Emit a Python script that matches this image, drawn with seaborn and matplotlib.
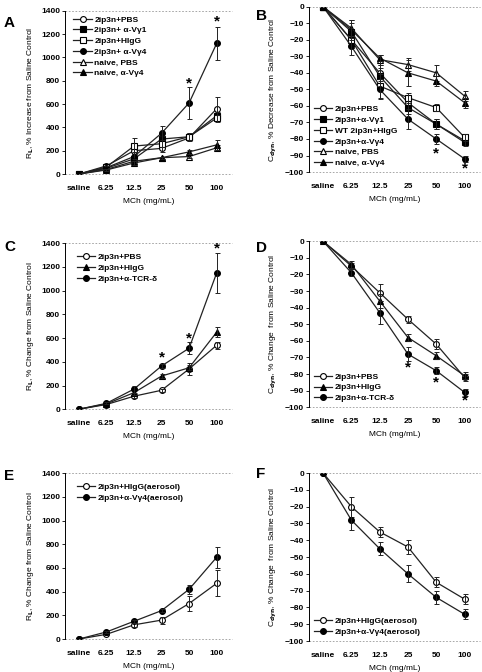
import numpy as np
import matplotlib
matplotlib.use('Agg')
import matplotlib.pyplot as plt
import seaborn as sns

doses = ['saline', '6.25', '12.5', '25', '50', '100']

# panel A: RL, % increase
a_pbs = [0, 70, 200, 220, 310, 560]
a_vg1 = [0, 50, 130, 300, 320, 500]
a_higg = [0, 60, 240, 260, 320, 480]
a_vg4 = [0, 55, 150, 350, 610, 1120]
a_nv_pbs = [0, 40, 110, 140, 150, 225]
a_nv_vg4 = [0, 35, 95, 140, 190, 250]
a_err_pbs = [0, 10, 30, 30, 30, 100]
a_err_vg1 = [0, 10, 30, 30, 30, 30]
a_err_higg = [0, 10, 70, 30, 30, 30]
a_err_vg4 = [0, 10, 40, 60, 140, 140]
a_err_nv_pbs = [0, 5, 20, 10, 15, 20]
a_err_nv_vg4 = [0, 5, 20, 10, 20, 40]

# panel B: Cdyn, % decrease
b_pbs = [0, -20, -40, -58, -71, -81]
b_vg1 = [0, -15, -42, -61, -71, -82]
b_higg = [0, -20, -48, -55, -61, -79]
b_vg4 = [0, -24, -50, -68, -80, -92]
b_nv_pbs = [0, -13, -32, -35, -40, -54]
b_nv_vg4 = [0, -14, -31, -40, -45, -58]
b_err_pbs = [0, 5, 5, 4, 3, 2]
b_err_vg1 = [0, 5, 5, 4, 3, 2]
b_err_higg = [0, 5, 7, 3, 2, 2]
b_err_vg4 = [0, 5, 6, 6, 3, 2]
b_err_nv_pbs = [0, 5, 3, 4, 5, 3]
b_err_nv_vg4 = [0, 6, 2, 8, 3, 3]

# panel C
c_pbs = [0, 40, 110, 160, 340, 540]
c_higg = [0, 45, 140, 280, 350, 650]
c_tcr = [0, 50, 170, 365, 515, 1150]
c_err_pbs = [0, 5, 15, 15, 50, 30]
c_err_higg = [0, 5, 20, 20, 20, 40]
c_err_tcr = [0, 8, 30, 15, 50, 170]

# panel D
d_pbs = [0, -15, -31, -47, -62, -82]
d_higg = [0, -14, -36, -58, -69, -81]
d_tcr = [0, -19, -43, -68, -78, -91]
d_err_pbs = [0, 2, 5, 2, 3, 2]
d_err_higg = [0, 2, 4, 2, 2, 2]
d_err_tcr = [0, 2, 7, 4, 2, 2]

# panel E
e_higg = [0, 40, 120, 160, 300, 470]
e_vg4 = [0, 60, 150, 240, 420, 690]
e_err_higg = [0, 8, 15, 30, 60, 110]
e_err_vg4 = [0, 8, 15, 15, 40, 90]

# panel F
f_higg = [0, -20, -35, -44, -65, -75]
f_vg4 = [0, -28, -45, -60, -74, -84]
f_err_higg = [0, 6, 3, 4, 3, 3]
f_err_vg4 = [0, 6, 4, 5, 4, 3]

stars_a = [(4, 780), (5, 1310)]
stars_b = [(4, -89), (5, -98)]
stars_c = [(3, 440), (4, 595), (5, 1360)]
stars_d = [(3, -76), (4, -85), (5, -96)]

plt.rcParams['font.family'] = ['Liberation Sans', 'DejaVu Sans']
plt.rcParams['font.weight'] = 'bold'
plt.rcParams['mathtext.default'] = 'bf'

fig = plt.figure(figsize=(4.82, 6.72), dpi=100)
x = np.arange(len(doses))


def panel(rect, series, ylim, yticks, ylabel, letter, letter_xy, stars, legloc, legbox):
    ax = fig.add_axes(rect)
    for label, vals, err, mk, filled in series:
        sns.lineplot(x=x, y=vals, ax=ax, color='#222222', lw=0.9, marker=mk,
                     markersize=4.2 if mk != '^' else 4.8,
                     markerfacecolor='black' if filled else 'white',
                     markeredgecolor='black', markeredgewidth=0.8, label=label)
        ax.errorbar(x[1:], vals[1:], yerr=err[1:], fmt='none', ecolor='#222222',
                    elinewidth=0.7, capsize=1.8, capthick=0.7)
    for sx, sy in stars:
        ax.text(sx, sy, '*', ha='center', va='center', fontsize=11)
    ax.set_ylim(*ylim)
    ax.set_xlim(-0.5, 5.55)
    ax.set_yticks(yticks)
    ax.set_xticks(x)
    ax.set_xticklabels(doses)
    ax.axhline(ylim[0], color='#999999', ls=(0, (2, 2)), lw=0.6, clip_on=False)
    ax.axhline(ylim[1], color='#999999', ls=(0, (2, 2)), lw=0.6, clip_on=False)
    for s in ['top', 'right', 'bottom']:
        ax.spines[s].set_visible(False)
    ax.spines['left'].set_linewidth(0.7)
    ax.tick_params(axis='y', labelsize=6, length=2, width=0.6, pad=1.5)
    ax.tick_params(axis='x', labelsize=6, length=0, pad=8)
    ax.set_xlabel('MCh (mg/mL)', fontsize=6, labelpad=4)
    ax.set_ylabel(ylabel, fontsize=6, labelpad=4)
    fig.text(letter_xy[0] / 482, 1 - letter_xy[1] / 672, letter, fontsize=11,
             fontweight='bold', ha='left', va='center')
    ax.legend(loc=legloc, bbox_to_anchor=legbox, fontsize=6, frameon=False,
              handlelength=2.2, handletextpad=0.3, labelspacing=0.35,
              borderaxespad=0.2)
    return ax


ylab_rl_inc = 'R$_{L}$, % Increase from Saline Control'
ylab_c_dec = 'C$_{dyn}$, % Decrease from Saline Control'
ylab_rl_chg = 'R$_{L}$, % Change from Saline Control'
ylab_c_chg = 'C$_{dyn}$, % Change  from Saline Control'

panel([0.135, 0.741, 0.346, 0.243],
      [('2ip3n+PBS', a_pbs, a_err_pbs, 'o', False),
       ('2ip3n+ α-Vγ1', a_vg1, a_err_vg1, 's', True),
       ('2ip3n+HIgG', a_higg, a_err_higg, 's', False),
       ('2ip3n+ α-Vγ4', a_vg4, a_err_vg4, 'o', True),
       ('naive, PBS', a_nv_pbs, a_err_nv_pbs, '^', False),
       ('naive, α-Vγ4', a_nv_vg4, a_err_nv_vg4, '^', True)],
      (0, 1400), range(0, 1401, 200), ylab_rl_inc, 'A', (4, 23), stars_a,
      'upper left', (0.02, 1.0))

panel([0.641, 0.744, 0.355, 0.246],
      [('2ip3n+PBS', b_pbs, b_err_pbs, 'o', False),
       ('2ip3n+α-Vγ1', b_vg1, b_err_vg1, 's', True),
       ('WT 2ip3n+HIgG', b_higg, b_err_higg, 's', False),
       ('2ip3n+α-Vγ4', b_vg4, b_err_vg4, 'o', True),
       ('naive, PBS', b_nv_pbs, b_err_nv_pbs, '^', False),
       ('naive, α-Vγ4', b_nv_vg4, b_err_nv_vg4, '^', True)],
      (-100, 0), range(-100, 1, 10), ylab_c_dec, 'B', (256, 16), stars_b,
      'lower left', (0.0, 0.0))

panel([0.135, 0.391, 0.346, 0.247],
      [('2ip3n+PBS', c_pbs, c_err_pbs, 'o', False),
       ('2ip3n+HIgG', c_higg, c_err_higg, '^', True),
       ('2ip3n+α-TCR-δ', c_tcr, c_err_tcr, 'o', True)],
      (0, 1400), range(0, 1401, 200), ylab_rl_chg, 'C', (4, 247), stars_c,
      'upper left', (0.04, 0.97))

panel([0.641, 0.394, 0.355, 0.247],
      [('2ip3n+PBS', d_pbs, d_err_pbs, 'o', False),
       ('2ip3n+HIgG', d_higg, d_err_higg, '^', True),
       ('2ip3n+α-TCR-δ', d_tcr, d_err_tcr, 'o', True)],
      (-100, 0), range(-100, 1, 10), ylab_c_chg, 'D', (256, 248), stars_d,
      'lower left', (0.0, 0.0))

panel([0.135, 0.049, 0.346, 0.247],
      [('2ip3n+HIgG(aerosol)', e_higg, e_err_higg, 'o', False),
       ('2ip3n+α-Vγ4(aerosol)', e_vg4, e_err_vg4, 'o', True)],
      (0, 1400), range(0, 1401, 200), ylab_rl_chg, 'E', (4, 476), [],
      'upper left', (0.04, 0.97))

panel([0.641, 0.046, 0.355, 0.25],
      [('2ip3n+HIgG(aerosol)', f_higg, f_err_higg, 'o', False),
       ('2ip3n+α-Vγ4(aerosol)', f_vg4, f_err_vg4, 'o', True)],
      (-100, 0), range(-100, 1, 10), ylab_c_chg, 'F', (256, 474), [],
      'lower left', (0.0, 0.0))

fig.savefig('out.png', dpi=100)
